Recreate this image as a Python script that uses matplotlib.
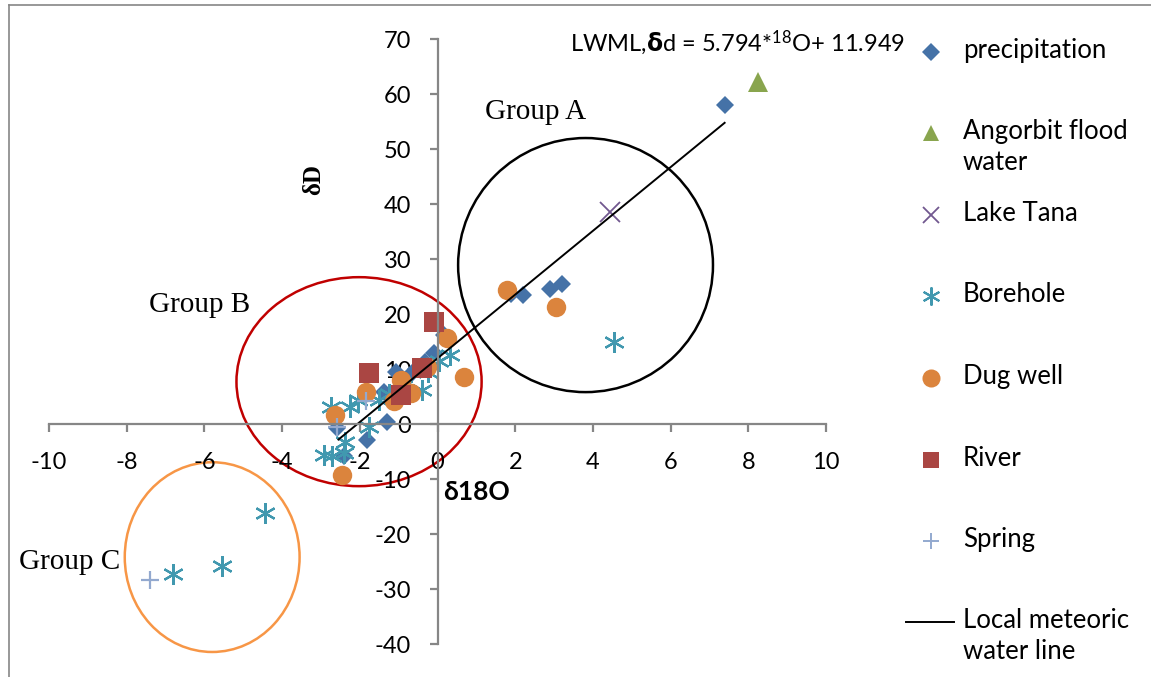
import numpy as np
import matplotlib
matplotlib.use("Agg")
import matplotlib.pyplot as plt
from matplotlib.patches import Ellipse
from matplotlib.lines import Line2D

plt.rcParams['font.family'] = ['Lato', 'DejaVu Sans']
plt.rcParams['mathtext.default'] = 'regular'
plt.rcParams['axes.unicode_minus'] = False

# isotope data: d18O (x) and dD (y) per sample type
precip_x = [7.4, 3.2, 2.9, 2.2, 1.9, 0.16, -0.1, -0.31, -0.55, -0.75, -1.08, -1.29, -1.81, -2.41, -2.58, -1.38]
precip_y = [58.0, 25.5, 24.6, 23.4, 23.6, 16.2, 12.9, 11.3, 10.0, 8.5, 9.5, 0.4, -2.9, -5.9, -0.8, 5.9]

flood_x = [8.24]
flood_y = [62.2]

tana_x = [4.44]
tana_y = [38.6]

bore_x = [4.54, -4.43, -5.56, -6.8, -2.75, -2.24, -2.05, -1.77, -2.93, -2.71, -2.37, -1.51,
          -1.25, -0.39, 0.33, 0.05, -0.25, -2.41, -0.9]
bore_y = [15.0, -16.2, -25.8, -27.3, 3.1, 3.1, 4.3, -0.5, -5.6, -5.9, -3.2, 4.4,
          5.5, 6.2, 12.5, 11.5, 9.5, -5.3, 7.0]

dug_x = [1.8, 3.06, 0.25, 0.68, -0.27, -0.95, -0.69, -1.13, -1.85, -2.63, -2.45]
dug_y = [24.4, 21.3, 15.6, 8.6, 10.4, 8.0, 5.6, 4.1, 5.9, 1.6, -9.3]

river_x = [-0.1, -0.39, -0.95, -1.77]
river_y = [18.6, 10.1, 5.3, 9.2]

spring_x = [-7.39, -1.85, -2.6]
spring_y = [-28.4, 4.1, -0.5]

# local meteoric water line: dD = 5.794 * d18O + 11.949
lmwl_slope = 5.794
lmwl_icept = 11.949
lmwl_x = np.array([-2.55, 7.39])

fig = plt.figure(figsize=(11.51, 6.77), dpi=100)
ax = fig.add_axes([0.04257, 0.04874, 0.6751, 0.8936])
ax.set_xlim(-10, 10)
ax.set_ylim(-40, 70)

asterisk = (6, 2, 0)
ax.plot(precip_x, precip_y, ls='none', marker='D', ms=9.5, color='#4572A7', mew=0)
ax.plot(flood_x, flood_y, ls='none', marker='^', ms=14, color='#89A54E', mew=0)
ax.plot(tana_x, tana_y, ls='none', marker='x', ms=14, color='#71588F', mew=1.3)
ax.plot(bore_x, bore_y, ls='none', marker=asterisk, ms=15, color='#4198AF', mew=1.6)
ax.plot(dug_x, dug_y, ls='none', marker='o', ms=14, color='#DB843D', mew=0)
ax.plot(river_x, river_y, ls='none', marker='s', ms=14, color='#AA4643', mew=0)
ax.plot(spring_x, spring_y, ls='none', marker='+', ms=13, color='#93A9CF', mew=1.6)
ax.plot(lmwl_x, lmwl_slope * lmwl_x + lmwl_icept, color='black', lw=1.4)

# grouping ellipses
ax.add_patch(Ellipse((3.81, 28.9), 6.56, 46.2, fill=False, ec='black', lw=1.8, clip_on=False))
ax.add_patch(Ellipse((-2.02, 7.7), 6.31, 38.0, fill=False, ec='#C00000', lw=1.8, clip_on=False))
ax.add_patch(Ellipse((-5.8, -24.2), 4.5, 34.5, fill=False, ec='#F79646', lw=1.8, clip_on=False))

serif = ['Liberation Serif', 'DejaVu Serif']
ax.text(2.52, 56.7, 'Group A', family=serif, fontsize=21, ha='center', va='center')
ax.text(-6.13, 21.6, 'Group B', family=serif, fontsize=21, ha='center', va='center')
ax.text(-9.47, -25.1, 'Group C', family=serif, fontsize=21, ha='center', va='center')

ax.text(-3.2, 44.4, 'δD', family=serif, fontsize=18, fontweight='bold',
        rotation=90, ha='center', va='center')
ax.text(1.0, -12.4, 'δ18O', fontsize=19, fontweight='bold', ha='center', va='center')
ax.text(3.4, 69.3, r'LWML,$\mathbf{δ}$d = 5.794*$^{18}$O+ 11.949', fontsize=17,
        ha='left', va='center')

# axes cross at the origin
for side in ['right', 'top']:
    ax.spines[side].set_visible(False)
ax.spines['left'].set_position(('data', 0))
ax.spines['bottom'].set_position(('data', 0))
for side in ['left', 'bottom']:
    ax.spines[side].set_color('#868686')
    ax.spines[side].set_linewidth(1.6)
ax.set_xticks(np.arange(-10, 11, 2))
ax.set_yticks(np.arange(-40, 71, 10))
ax.tick_params(axis='both', colors='#868686', width=1.6, length=6, labelsize=17,
               labelcolor='black')
ax.tick_params(axis='x', pad=14)
ax.tick_params(axis='y', pad=13)
ax.patch.set_visible(False)

# legend column
legend_items = [
    ('D', '#4572A7', 9.5, 0, 'precipitation'),
    ('^', '#89A54E', 12, 0, 'Angorbit flood\nwater'),
    ('x', '#71588F', 11, 1.3, 'Lake Tana'),
    (asterisk, '#4198AF', 13, 1.5, 'Borehole'),
    ('o', '#DB843D', 13, 0, 'Dug well'),
    ('s', '#AA4643', 11, 0, 'River'),
    ('+', '#93A9CF', 12, 1.4, 'Spring'),
]
W, H = 1151, 677
row_y = [52, 133, 215, 296, 378, 460, 541, 622]
for (mk, col, ms, mew, label), py in zip(legend_items, row_y):
    fig.add_artist(Line2D([931 / W], [1 - py / H], ls='none', marker=mk, ms=ms,
                          color=col, mew=mew))
    fig.text(963 / W, 1 - (py - 14) / H, label, fontsize=18.5, ha='left', va='top',
             linespacing=1.3)
fig.add_artist(Line2D([906 / W, 954 / W], [1 - 622 / H] * 2, color='black', lw=1.4))
fig.text(963 / W, 1 - 608 / H, 'Local meteoric\nwater line', fontsize=18.5, ha='left',
         va='top', linespacing=1.3)

# outer chart frame
fig.add_artist(Line2D([9 / W, 9 / W], [0, 1 - 5 / H], color='#868686', lw=1.2))
fig.add_artist(Line2D([9 / W, 1], [1 - 5 / H] * 2, color='#868686', lw=1.2))

fig.savefig('out.png', dpi=100)
